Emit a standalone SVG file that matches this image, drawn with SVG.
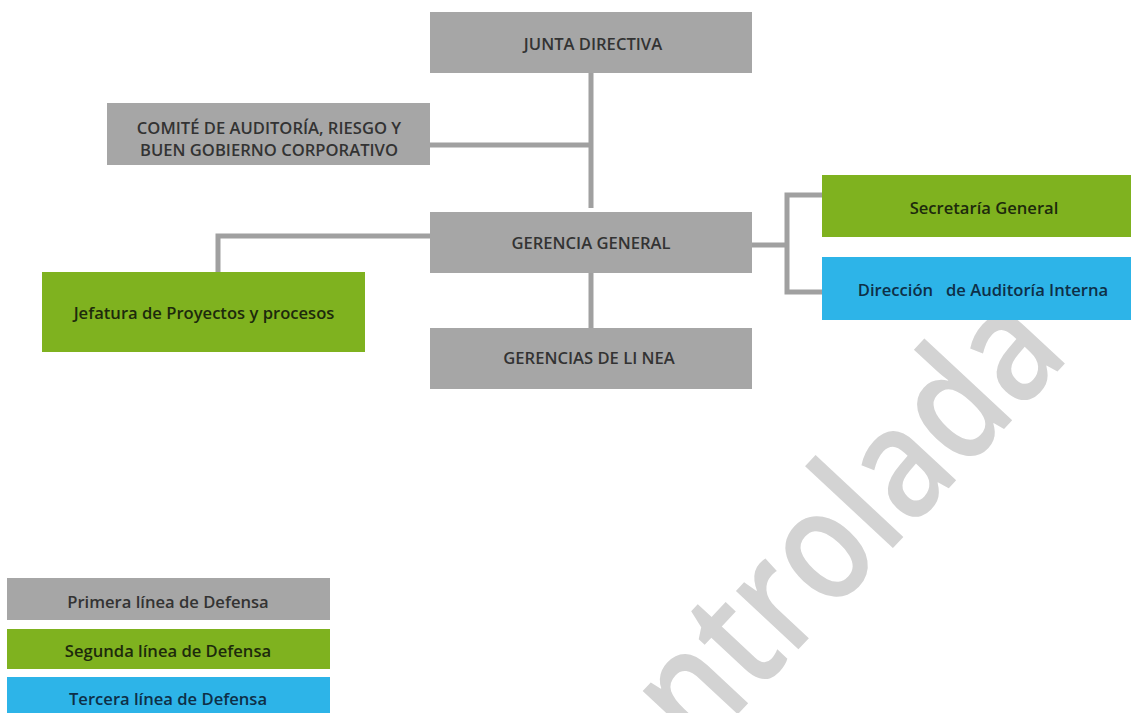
<svg xmlns="http://www.w3.org/2000/svg" width="1131" height="713" viewBox="0 0 1131 713">
<style>
.g{fill:#a6a6a6}
.gr{fill:#7fb21f}
.bl{fill:#2db4e8}
text{font-family:"Open Sans","Liberation Sans",sans-serif;font-weight:600;font-size:16.6px;text-anchor:middle;dominant-baseline:central}
.tg{fill:#333333}
.tgr{fill:#1d2a0c}
.tbl{fill:#0e2f47}
.wm{font-family:"Open Sans","Liberation Sans",sans-serif;font-weight:600;font-size:158px;fill:#d3d3d3;text-anchor:end;dominant-baseline:auto}
#connectors path{fill:none;stroke:#a0a0a0;stroke-width:5}
</style>
<rect width="1131" height="713" fill="#ffffff"/>
<text class="wm" transform="translate(1072 356) rotate(-47) scale(0.84 1)">Controlada</text>
<g id="connectors">
<path d="M591 73 V208"/>
<path d="M430 145 H591"/>
<path d="M591 273 V328"/>
<path d="M430 236 H218 V272"/>
<path d="M752 245 H787"/>
<path d="M822 195 H787 V292 H822"/>
</g>
<g id="junta"><rect class="g" x="430" y="12" width="322" height="61"/><text class="tg" x="593" y="43">JUNTA DIRECTIVA</text></g>
<g id="comite"><rect class="g" x="107" y="103" width="323" height="62"/><text class="tg" x="269" y="127">COMITÉ DE AUDITORÍA, RIESGO Y</text><text class="tg" x="269" y="149">BUEN GOBIERNO CORPORATIVO</text></g>
<g id="gerencia"><rect class="g" x="430" y="212" width="322" height="61"/><text class="tg" x="591" y="242">GERENCIA GENERAL</text></g>
<g id="jefatura"><rect class="gr" x="42" y="272" width="323" height="80"/><text class="tgr" x="204" y="312">Jefatura de Proyectos y procesos</text></g>
<g id="lineas"><rect class="g" x="430" y="328" width="322" height="61"/><text class="tg" x="589" y="357">GERENCIAS DE LI NEA</text></g>
<g id="secretaria"><rect class="gr" x="822" y="175" width="309" height="62"/><text class="tgr" x="984" y="207">Secretaría General</text></g>
<g id="auditoria"><rect class="bl" x="822" y="257" width="309" height="63"/><text class="tbl" x="983" y="289" xml:space="preserve">Dirección   de Auditoría Interna</text></g>
<g id="legend">
<g id="leg1"><rect class="g" x="7" y="578" width="323" height="42"/><text class="tg" x="168" y="601">Primera línea de Defensa</text></g>
<g id="leg2"><rect class="gr" x="7" y="629" width="323" height="40"/><text class="tgr" x="168" y="650">Segunda línea de Defensa</text></g>
<g id="leg3"><rect class="bl" x="7" y="677" width="323" height="36"/><text class="tbl" x="168" y="698">Tercera línea de Defensa</text></g>
</g>
</svg>
